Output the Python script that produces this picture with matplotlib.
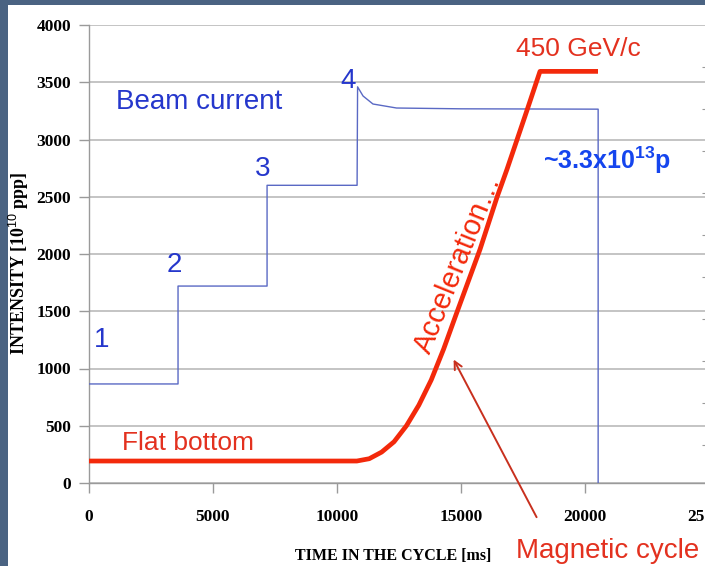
import numpy as np
import matplotlib.pyplot as plt
from matplotlib.patches import Rectangle

plt.rcParams['mathtext.fontset'] = 'custom'
plt.rcParams['mathtext.rm'] = 'Liberation Sans'
plt.rcParams['mathtext.bf'] = 'Liberation Sans:bold'

# beam current (10^10 protons) vs time in cycle (ms)
beam_t = [0, 3590, 3590, 7180, 7180, 10810, 10830, 11050, 11450, 12400, 15000, 20530, 20530]
beam_i = [865, 865, 1720, 1720, 2600, 2600, 3460, 3380, 3310, 3275, 3268, 3265, 0]

# magnetic cycle, drawn on the same scale
mag_t = [0, 10800, 11300, 11800, 12300, 12800, 13300, 13800, 14300, 14800,
         15766, 16452, 16855, 17661, 18185, 20524]
mag_v = [192, 192, 212, 270, 360, 500, 680, 900, 1170, 1470,
         2040, 2496, 2740, 3255, 3595, 3595]

inj_labels = ['1', '2', '3', '4']
inj_pos = [(500, 1250), (3450, 1900), (7000, 2745), (10430, 3515)]

xticks = [0, 5000, 10000, 15000, 20000, 25000]
yticks = list(range(0, 4001, 500))

red = '#f3290b'
red_txt = '#e3311f'
blue_txt = '#2537cc'

fig = plt.figure(figsize=(7.05, 5.66), dpi=100)
fig.patch.set_facecolor('#4a6382')
fig.patches.append(Rectangle((8/705, 0), 1, 1 - 5/566, transform=fig.transFigure,
                             facecolor='white', edgecolor='none', zorder=-10))

ax = fig.add_axes([89/705, 83/566, 620/705, 458/566])
ax.set_facecolor('none')
ax.set_xlim(0, 25000)
ax.set_ylim(0, 4000)

for s in ['top', 'right']:
    ax.spines[s].set_visible(False)
for s in ['left', 'bottom']:
    ax.spines[s].set_color('#9a9a9a')
    ax.spines[s].set_linewidth(1)

ax.yaxis.grid(True, color='#b4b4b4', linewidth=1.1)
ax.set_axisbelow(True)

ax.set_xticks(xticks)
ax.set_yticks(yticks)
ax.tick_params(axis='both', length=7, color='#9a9a9a', width=1)
ax.tick_params(axis='x', pad=12)
ax.tick_params(axis='y', pad=6)
for lab in ax.get_xticklabels() + ax.get_yticklabels():
    lab.set_family('Liberation Serif')
    lab.set_fontweight('bold')
    lab.set_fontsize(12.5)

ax.set_ylabel('INTENSITY [10$^{10}$ ppp]', family='Liberation Serif',
              fontweight='bold', fontsize=13)
ax.yaxis.set_label_coords(-0.093, 0.48)
ax.set_xlabel('TIME IN THE CYCLE [ms]', family='Liberation Serif',
              fontweight='bold', fontsize=11.5)
ax.xaxis.set_label_coords(0.49, -0.142)

# right-hand axis of the magnet cycle, only its ticks show
ax2 = ax.twinx()
ax2.set_ylim(0.1, 11.0)
ax2.set_yticks(range(1, 11))
ax2.set_yticklabels([])
ax2.tick_params(axis='y', direction='in', length=5, color='#9a9a9a')
for s in ax2.spines.values():
    s.set_visible(False)

ax.plot(beam_t, beam_i, color='#5a69c4', linewidth=1.0, zorder=3)
ax.plot(mag_t, mag_v, color=red, linewidth=3.4, solid_joinstyle='round',
        solid_capstyle='butt', zorder=4)

for lab, (x, y) in zip(inj_labels, inj_pos):
    ax.text(x, y, lab, color=blue_txt, fontsize=20, family='Liberation Sans',
            ha='center', va='center')

ax.text(1100, 3330, 'Beam current', color=blue_txt, fontsize=20,
        family='Liberation Sans', ha='left', va='center')
ax.text(18300, 2820, '~3.3x10$^{\\mathbf{13}}$p', color='#1545ee', fontsize=18,
        fontweight='bold', family='Liberation Sans', ha='left', va='center')
ax.text(19750, 3790, '450 GeV/c', color=red_txt, fontsize=19,
        family='Liberation Sans', ha='center', va='center')
ax.text(1350, 350, 'Flat bottom', color=red_txt, fontsize=19,
        family='Liberation Sans', ha='left', va='center')
ax.text(14900, 1910, 'Acceleration\u2026', color=red, fontsize=21,
        family='Liberation Sans', rotation=68, rotation_mode='anchor',
        ha='center', va='center')

ax.annotate('', xy=(14650, 1100), xytext=(18100, -320),
            arrowprops=dict(arrowstyle='->', color='#c8301e', lw=1.4,
                            mutation_scale=14),
            annotation_clip=False)
ax.text(17200, -590, 'Magnetic cycle', color=red_txt, fontsize=20,
        family='Liberation Sans', ha='left', va='center', clip_on=False)

fig.savefig('out.png', dpi=100)
